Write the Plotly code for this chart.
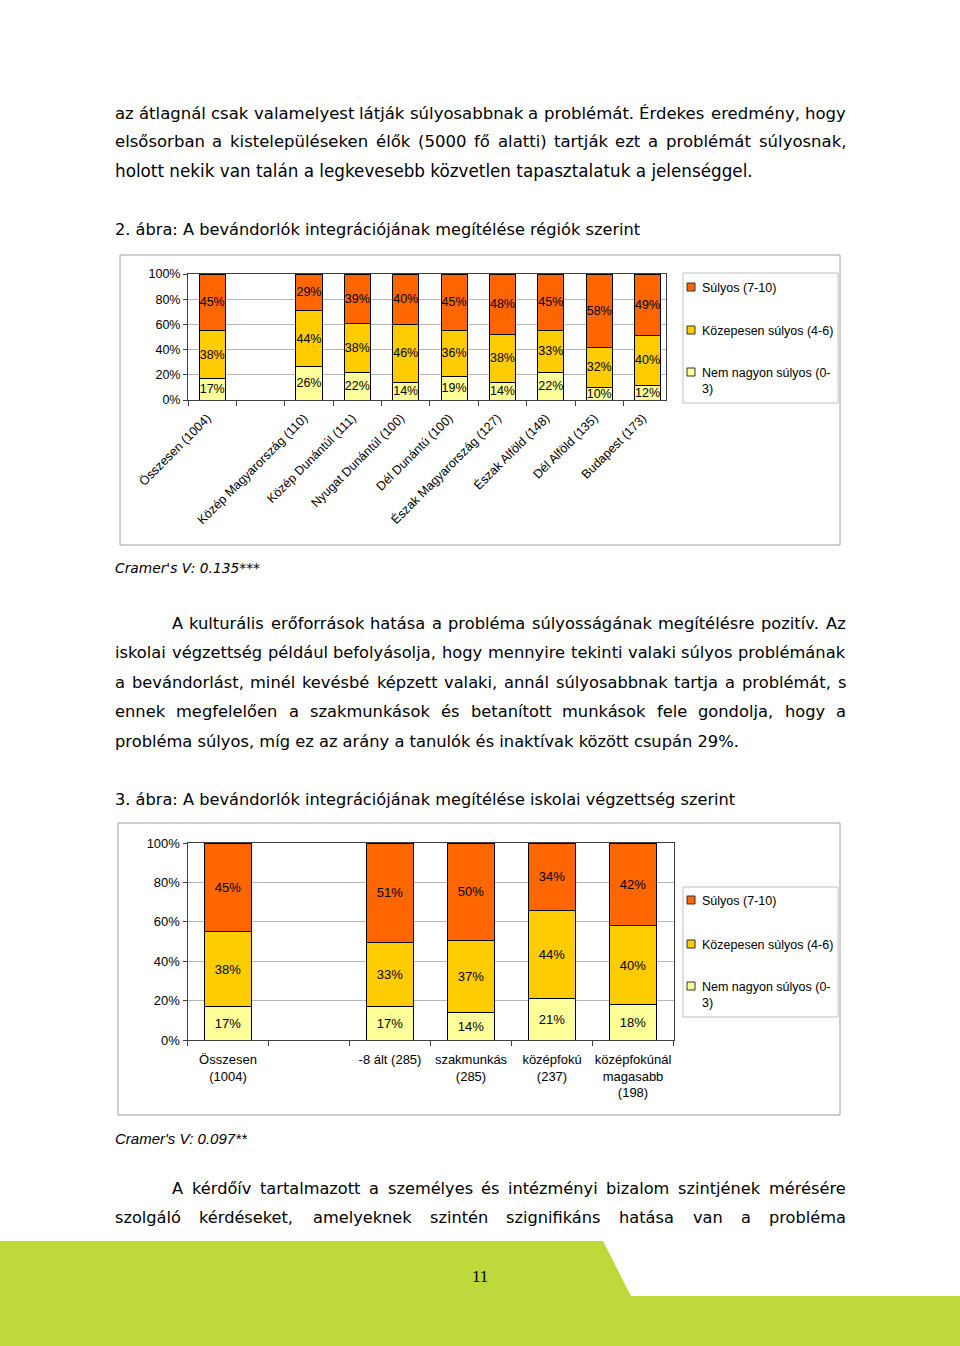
import unicodedata
import plotly.graph_objects as go

OFF = 0
W, H = 960, 1346

# ---------------- data ----------------
regions = ["Összesen (1004)", "", "Közép Magyarország (110)", "Közép Dunántúl (111)",
           "Nyugat Dunántúl (100)", "Dél Dunántú (100)", "Észak Magyarország (127)",
           "Észak Alföld (148)", "Dél Alföld (135)", "Budapest (173)"]
reg_low = [17, None, 26, 22, 14, 19, 14, 22, 10, 12]
reg_mid = [38, None, 44, 38, 46, 36, 38, 33, 32, 40]
reg_high = [45, None, 29, 39, 40, 45, 48, 45, 58, 49]

edu = ["Összesen<br>(1004)", "", "-8 ált (285)", "szakmunkás<br>(285)",
       "középfokú<br>(237)", "középfokúnál<br>magasabb<br>(198)"]
edu_low = [17, None, 17, 14, 21, 18]
edu_mid = [38, None, 33, 37, 44, 40]
edu_high = [45, None, 51, 50, 34, 42]

series_names = ["Súlyos (7-10)", "Közepesen súlyos (4-6)", "Nem nagyon súlyos (0-3)"]
series_colors = ["#FF6600", "#FFCC00", "#FFFF99"]
y_ticks = [0, 20, 40, 60, 80, 100]
y_ticktext = ["0%", "20%", "40%", "60%", "80%", "100%"]

# ---------------- helpers ----------------
def px(x):
    return (x - OFF) / W

def py(y):
    return 1 - (y - OFF) / H

ARIAL = "Liberation Sans, Arial, sans-serif"
VERD = "DejaVu Sans, Verdana, sans-serif"

DEJAVU_W = {' ': 651, 'a': 1255, 'b': 1300, 'c': 1126, 'd': 1300, 'e': 1260, 'f': 721, 'g': 1300,
            'h': 1298, 'i': 569, 'j': 569, 'k': 1186, 'l': 569, 'm': 1995, 'n': 1298, 'o': 1253,
            'p': 1300, 'q': 1300, 'r': 842, 's': 1067, 't': 803, 'u': 1298, 'v': 1212, 'w': 1675,
            'x': 1212, 'y': 1212, 'z': 1075, 'A': 1401, 'E': 1294, 'I': 604, 'O': 1612, 'C': 1430,
            'V': 1401, '.': 651, ',': 651, '(': 799, ')': 799, '%': 1946, '-': 739, ':': 690,
            '0': 1303, '1': 1303, '2': 1303, '3': 1303, '5': 1303, '9': 1303}

def measure(s, table, size):
    tot = 0
    for ch in s:
        base = unicodedata.normalize('NFD', ch)[0]
        tot += table.get(base, 1200)
    return tot / 2048 * size

annotations = []

def add_text(text, x, y, family, size, anchor='left', italic=False):
    t = f"<i>{text}</i>" if italic else text
    annotations.append(dict(text=t, x=px(x), y=py(y), xref='paper', yref='paper',
                            xanchor=anchor, yanchor='middle', showarrow=False,
                            borderpad=0, borderwidth=0,
                            font=dict(family=family, size=size, color='black')))

def add_line(text, y, x0, x1, size, justify, family=VERD, table=DEJAVU_W):
    if not justify:
        add_text(text, x0, y, family, size)
        return
    words = text.split(' ')
    widths = [measure(w, table, size) for w in words]
    space = table[' '] / 2048 * size
    natural = sum(widths) + space * (len(words) - 1)
    extra = (x1 - x0 - natural) / (len(words) - 1)
    x = x0
    for i, w in enumerate(words):
        if i == len(words) - 1:
            add_text(w, x1, y, family, size, anchor='right')
        else:
            add_text(w, x, y, family, size)
        x += widths[i] + space + extra

# paragraph 1
add_line("az átlagnál csak valamelyest látják súlyosabbnak a problémát. Érdekes eredmény, hogy",
         113, 115, 846, 16.5, True)
add_line("elsősorban a kistelepüléseken élők (5000 fő alatti) tartják ezt a problémát súlyosnak,",
         142, 115, 846, 16.5, True)
add_line("holott nekik van talán a legkevesebb közvetlen tapasztalatuk a jelenséggel.",
         171, 115, 846, 16.8, False)
add_line("2. ábra: A bevándorlók integrációjának megítélése régiók szerint",
         229, 115, 846, 16.2, False)
add_text("Cramer's V: 0.135***", 115, 568, VERD, 13.8, italic=True)
# paragraph 2
add_line("A kulturális erőforrások hatása a probléma súlyosságának megítélésre pozitív. Az",
         623, 172, 846, 16.3, True)
add_line("iskolai végzettség például befolyásolja, hogy mennyire tekinti valaki súlyos problémának",
         652, 115, 846, 16.3, True)
add_line("a bevándorlást, minél kevésbé képzett valaki, annál súlyosabbnak tartja a problémát, s",
         682, 115, 846, 16.3, True)
add_line("ennek megfelelően a szakmunkások és betanított munkások fele gondolja, hogy a",
         711, 115, 846, 16.3, True)
add_line("probléma súlyos, míg ez az arány a tanulók és inaktívak között csupán 29%.",
         741, 115, 846, 16.3, False)
add_line("3. ábra: A bevándorlók integrációjának megítélése iskolai végzettség szerint",
         799, 115, 846, 16.2, False)
add_text("Cramer's V: 0.097**", 115, 1138, ARIAL, 15, italic=True)
# paragraph 3
add_line("A kérdőív tartalmazott a személyes és intézményi bizalom szintjének mérésére",
         1188, 172, 846, 16.2, True)
add_line("szolgáló kérdéseket, amelyeknek szintén szignifikáns hatása van a probléma",
         1217, 115, 846, 16.2, True)

# page number
annotations.append(dict(text="11", x=px(480), y=py(1276), xref='paper', yref='paper',
                        xanchor='center', yanchor='middle', showarrow=False,
                        font=dict(family="Liberation Serif, Times New Roman, serif", size=17,
                                  color='black')))

# ---------------- bars ----------------
fig = go.Figure()

def add_bars(cats, low, mid, high, xa, ya, size, bw):
    idx = [i for i, c in enumerate(cats) if low[i] is not None]
    for vals, name, col in [(low, series_names[2], series_colors[2]),
                            (mid, series_names[1], series_colors[1]),
                            (high, series_names[0], series_colors[0])]:
        v = [vals[i] for i in idx]
        fig.add_trace(go.Bar(
            x=idx, y=v, name=name, xaxis=xa, yaxis=ya, showlegend=False, width=bw,
            marker=dict(color=col, line=dict(color='black', width=1)),
            text=[f"{a}%" for a in v], textposition='inside', insidetextanchor='middle',
            textangle=0, textfont=dict(family=ARIAL, size=size, color='black'),
            hoverinfo='skip'))

add_bars(regions, reg_low, reg_mid, reg_high, 'x', 'y', 12.5, 0.54)
add_bars(edu, edu_low, edu_mid, edu_high, 'x2', 'y2', 13, 0.57)

axis_line = '#404040'
grid = '#b8b8b8'

common_y = dict(range=[0, 100], tickmode='array', tickvals=y_ticks, ticktext=y_ticktext,
                showgrid=True, gridcolor=grid, gridwidth=1, ticks='outside', ticklen=4,
                tickcolor=axis_line, showline=True, linecolor=axis_line, mirror=True,
                zeroline=False, fixedrange=True, automargin=False)

fig.update_layout(
    width=W, height=H, margin=dict(l=0, r=0, t=0, b=0, pad=0, autoexpand=False),
    autosize=False,
    paper_bgcolor='white', plot_bgcolor='white',
    barmode='stack', barnorm='percent',
    uniformtext=dict(mode='show', minsize=12.5),
    xaxis=dict(domain=[px(188), px(666)], anchor='y', range=[-0.5, 9.38], automargin=False,
               tickmode='array', tickvals=list(range(len(regions))), ticktext=regions,
               tickangle=-45, ticks='', showgrid=False, zeroline=False,
               ticklabelstandoff=5, ticklabelshift=-5,
               showline=True, linecolor=axis_line, mirror=True,
               tickfont=dict(family=ARIAL, size=12.5, color='black'),
               minor=dict(tickmode='array', tickvals=[i - 0.5 for i in range(len(regions) + 1)],
                          ticks='outside', ticklen=5, tickcolor=axis_line, showgrid=False)),
    yaxis=dict(domain=[py(400), py(274)], anchor='x',
               tickfont=dict(family=ARIAL, size=12.5, color='black'), **common_y),
    xaxis2=dict(domain=[px(187.5), px(673.5)], anchor='y2', range=[-0.5, 5.5], automargin=False,
                tickmode='array', tickvals=list(range(len(edu))), ticktext=edu,
                tickangle=0, ticks='', showgrid=False, zeroline=False,
                ticklabelstandoff=7,
                showline=True, linecolor=axis_line, mirror=True,
                tickfont=dict(family=ARIAL, size=13, color='black'),
                minor=dict(tickmode='array', tickvals=[i - 0.5 for i in range(len(edu) + 1)],
                           ticks='outside', ticklen=5, tickcolor=axis_line, showgrid=False)),
    yaxis2=dict(domain=[py(1040), py(843)], anchor='x2',
                tickfont=dict(family=ARIAL, size=13, color='black'), **common_y),
)

# ---------------- shapes ----------------
shapes = []

def rect(x0, y0, x1, y1, line, fill=None, width=1, layer='below'):
    shapes.append(dict(type='rect', xref='paper', yref='paper', x0=px(x0), x1=px(x1),
                       y0=py(y1), y1=py(y0), line=dict(color=line, width=width),
                       fillcolor=fill if fill else 'rgba(0,0,0,0)', layer=layer))

# chart frames
rect(120, 255, 840, 545, '#a0a0a0')
rect(118, 823, 840, 1115, '#a0a0a0')

# legends
def legend(x0, y0, x1, y1, ys):
    rect(x0, y0, x1, y1, '#c0c0c0')
    labels = [series_names[0], series_names[1], series_names[2].replace("(0-", "(0-<br>")]
    for name, col, yy in zip(labels, series_colors, ys):
        rect(687, yy - 4, 695, yy + 4, '#303030', fill=col, layer='above')
        annotations.append(dict(text=name, x=px(700), y=py(yy - 8), xref='paper', yref='paper',
                                xanchor='left', yanchor='top', showarrow=False, align='left',
                                font=dict(family=ARIAL, size=12.5, color='black')))

legend(683, 273, 838, 403, [287, 330, 372])
legend(683, 887, 838, 1017, [900, 944, 986])

# green footer
path = (f"M {px(0)},{py(1241)} L {px(603)},{py(1241)} L {px(631)},{py(1296)} "
        f"L {px(960)},{py(1296)} L {px(960)},{py(1346)} L {px(0)},{py(1346)} Z")
shapes.append(dict(type='path', xref='paper', yref='paper', path=path,
                   fillcolor='#BED93C', line=dict(width=0), layer='below'))

fig.update_layout(shapes=shapes, annotations=annotations)
fig.write_html("out.html", config={'responsive': False, 'displayModeBar': False},
               post_script="document.body.style.margin='0';document.body.style.overflow='hidden';")
